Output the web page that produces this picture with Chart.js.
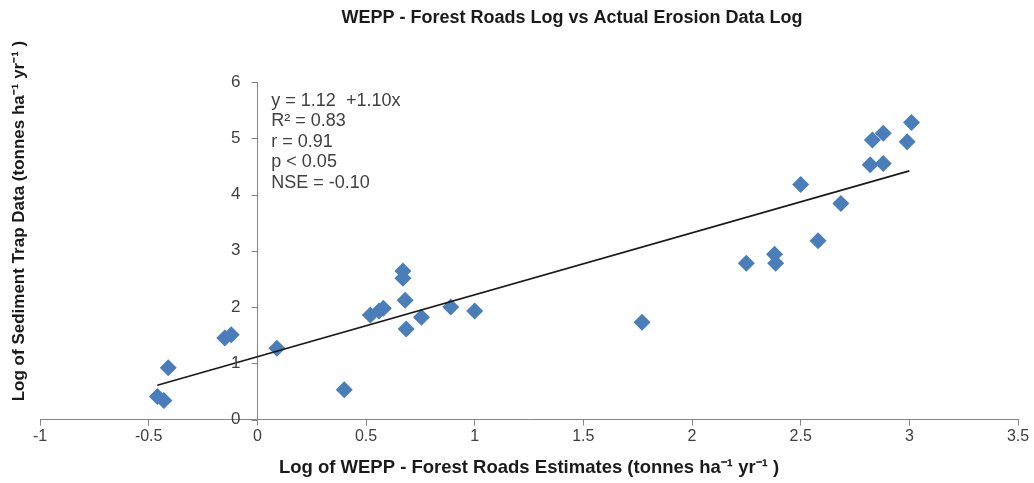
<!DOCTYPE html>
<html>
<head>
<meta charset="utf-8">
<script src="https://cdn.jsdelivr.net/npm/chart.js@4/dist/chart.umd.min.js"></script>
<style>
html,body{margin:0;padding:0;background:#fff;}
#wrap{width:1034px;height:483px;position:relative;}
</style>
</head>
<body>
<div id="wrap"><canvas id="c" width="1034" height="483"></canvas></div>
<script>
// Observed data (log WEPP estimate, log sediment trap)
const wepX = [-0.46, -0.43, -0.41, -0.15, -0.12, 0.09, 0.40, 0.52, 0.56, 0.58, 0.67, 0.67, 0.68, 0.685, 0.755, 0.89, 1.00, 1.77, 2.25, 2.38, 2.385, 2.50, 2.58, 2.685, 2.82, 2.83, 2.88, 2.88, 2.99, 3.01];
const trapY = [0.41, 0.34, 0.92, 1.45, 1.51, 1.27, 0.53, 1.86, 1.93, 1.98, 2.64, 2.51, 2.12, 1.61, 1.82, 2.00, 1.93, 1.73, 2.78, 2.94, 2.78, 4.18, 3.18, 3.84, 4.53, 4.97, 5.09, 4.55, 4.94, 5.28];
// Trend line end points as drawn
const trendX = [-0.46, 3.00];
const trendY = [0.61, 4.42];
// Axis ticks
const xTicks = [-1, -0.5, 0, 0.5, 1, 1.5, 2, 2.5, 3, 3.5];
const yTicks = [0, 1, 2, 3, 4, 5, 6];
// Texts
const chartTitle = 'WEPP - Forest Roads Log vs Actual Erosion Data Log';
const xTitle = 'Log of WEPP - Forest Roads Estimates (tonnes ha\u207B\u00B9 yr\u207B\u00B9 )';
const yTitle = 'Log of Sediment Trap Data (tonnes ha\u207B\u00B9 yr\u207B\u00B9 )';
const statLines = ['y = 1.12  +1.10x', 'R\u00B2 = 0.83', 'r = 0.91', 'p < 0.05', 'NSE = -0.10'];

const points = wepX.map((x, i) => ({x: x, y: trapY[i]}));
const trend = trendX.map((x, i) => ({x: x, y: trendY[i]}));

const AXIS = '#868686';
const TXT = '#404040';
const FONT = '"Liberation Sans", Arial, sans-serif';

const extras = {
  id: 'extras',
  beforeDatasetsDraw(chart) {
    const ctx = chart.ctx;
    const xs = chart.scales.x, ys = chart.scales.y;
    const axisX = Math.round(xs.getPixelForValue(0)) + 0.5;
    ctx.save();
    ctx.strokeStyle = AXIS;
    ctx.lineWidth = 1;
    ctx.beginPath();
    ys.ticks.forEach(t => {
      const py = Math.round(ys.getPixelForValue(t.value)) + 0.5;
      ctx.moveTo(axisX - 6, py);
      ctx.lineTo(axisX, py);
    });
    ctx.stroke();
    ctx.restore();
  },
  afterDraw(chart) {
    const ctx = chart.ctx;
    const xs = chart.scales.x, ys = chart.scales.y;
    const axisX = xs.getPixelForValue(0);
    ctx.save();
    // Chart title
    ctx.fillStyle = '#1a1a1a';
    ctx.font = 'bold 18px ' + FONT;
    ctx.textAlign = 'center';
    ctx.textBaseline = 'middle';
    ctx.fillText(chartTitle, 572, 18);
    // Y axis title
    ctx.save();
    ctx.translate(19, 221);
    ctx.rotate(-Math.PI / 2);
    ctx.font = 'bold 17px ' + FONT;
    ctx.fillText(yTitle, 0, 0);
    ctx.restore();
    // Y tick labels, placed from the y scale
    ctx.font = '17px ' + FONT;
    ctx.fillStyle = TXT;
    ctx.textAlign = 'right';
    ys.ticks.forEach(t => {
      ctx.fillText(String(t.value), axisX - 17, ys.getPixelForValue(t.value));
    });
    // Stats text
    ctx.font = '18px ' + FONT;
    ctx.textAlign = 'left';
    const sx = axisX + 14;
    statLines.forEach((s, i) => ctx.fillText(s, sx, 101 + i * 20.5));
    ctx.restore();
  }
};

new Chart(document.getElementById('c'), {
  type: 'scatter',
  data: {
    datasets: [
      {
        label: 'Trend',
        data: trend,
        showLine: true,
        borderColor: '#1a1a1a',
        borderWidth: 1.7,
        pointRadius: 0,
        fill: false
      },
      {
        label: 'Observed',
        data: points,
        pointStyle: 'rectRot',
        pointRadius: 8.5,
        pointHoverRadius: 8.5,
        backgroundColor: '#4A7EBB',
        borderColor: '#4A7EBB',
        borderWidth: 0
      }
    ]
  },
  options: {
    responsive: false,
    animation: false,
    layout: {padding: {left: 40, right: 16, top: 82, bottom: 0}},
    plugins: {
      legend: {display: false},
      tooltip: {enabled: false},
      title: {display: false}
    },
    scales: {
      x: {
        type: 'linear',
        position: 'bottom',
        min: -1, max: 3.5,
        afterBuildTicks(axis) { axis.ticks = xTicks.map(v => ({value: v})); },
        grid: {drawOnChartArea: false, drawTicks: true, tickLength: 6, color: AXIS},
        border: {color: AXIS, width: 1},
        ticks: {
          color: TXT,
          padding: 1,
          maxRotation: 0,
          font: {family: FONT, size: 16},
          callback: v => String(v)
        },
        title: {
          display: true,
          text: xTitle,
          color: '#1a1a1a',
          font: {family: FONT, size: 18.5, weight: 'bold'},
          padding: {top: 10, bottom: 4}
        }
      },
      y: {
        type: 'linear',
        position: {x: 0},
        min: 0, max: 6,
        afterBuildTicks(axis) { axis.ticks = yTicks.map(v => ({value: v})); },
        grid: {drawOnChartArea: false, drawTicks: false, color: AXIS},
        border: {color: AXIS, width: 1},
        ticks: {display: false}
      }
    }
  },
  plugins: [extras]
});
</script>
</body>
</html>
